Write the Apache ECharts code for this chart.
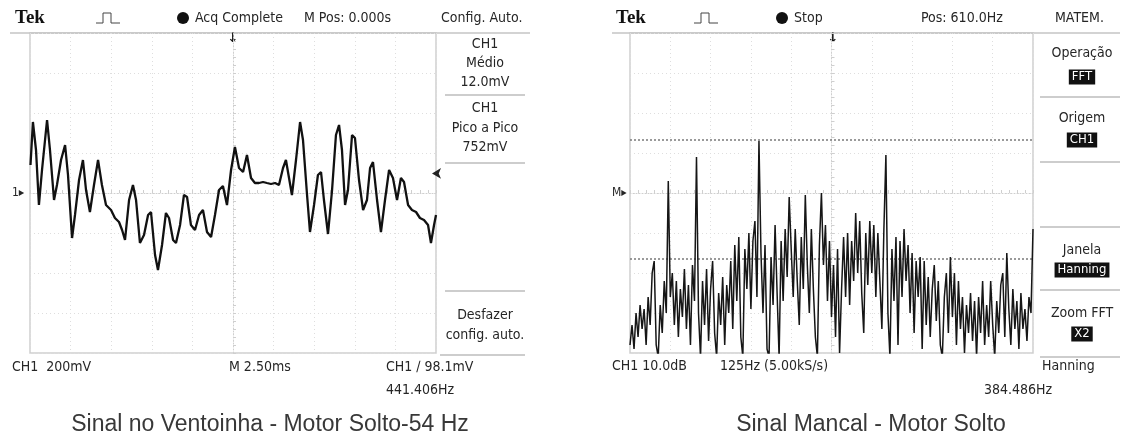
<!DOCTYPE html>
<html><head><meta charset="utf-8">
<script src="https://cdn.jsdelivr.net/npm/echarts@6/dist/echarts.min.js"></script>
<style>html,body{margin:0;padding:0;background:#fff}#c{width:1125px;height:439px}</style>
</head><body><div id="c"></div><script>
// ---- Left scope: time-domain signal (ms, mV) ----
const timeMs = [0.03,0.18,0.37,0.55,0.74,1.05,1.23,1.48,1.66,1.91,2.16,2.34,2.59,2.77,3.02,3.26,3.45,3.69,3.94,4.19,4.43,4.68,4.99,5.23,5.48,5.67,5.85,6.10,6.34,6.53,6.77,7.02,7.27,7.45,7.70,7.88,8.13,8.37,8.56,8.81,8.99,9.24,9.48,9.67,9.91,10.16,10.41,10.65,10.90,11.15,11.39,11.64,11.88,12.13,12.38,12.62,12.87,13.12,13.36,13.61,13.85,14.10,14.35,14.59,14.84,15.09,15.33,15.58,15.76,15.95,16.13,16.38,16.63,16.81,17.06,17.24,17.49,17.73,17.92,18.10,18.35,18.60,18.84,19.03,19.21,19.40,19.58,19.83,20.01,20.26,20.51,20.75,20.94,21.12,21.37,21.61,21.86,22.11,22.35,22.60,22.84,23.03,23.28,23.52,23.77,24.01,24.26,24.51,24.69,24.88,25.00];
const voltMv = [140,355,215,-60,115,365,215,-35,40,165,240,90,-225,-110,65,165,15,-95,40,165,40,-60,-85,-125,-145,-185,-235,-35,40,-35,-250,-210,-110,-95,-310,-385,-260,-100,-125,-235,-250,-160,-10,-20,-160,-185,-110,-85,-195,-220,-110,15,35,-60,115,230,125,105,190,75,50,50,55,50,45,50,40,125,165,75,-10,165,355,265,-10,-195,-60,90,105,-35,-205,15,290,340,215,-60,15,290,275,65,-85,-35,125,155,-35,-195,-35,115,75,-35,75,55,-60,-85,-95,-125,-135,-160,-250,-160,-110];
const triggerMv = 98.1;

// ---- Right scope: FFT (Hz bins, dB) ----
const fftStartHz = -15;
const fftStepHz = 6.25;
const fftDb = [-38,-33,-39,-30,-36,-28,-34,-29,-38,-26,
-33,-20,-17,-38,-41,-28,-35,-22,-30,3,
-26,-20,-33,-22,-36,-24,-31,-19,-34,-23,
-38,-18,-27,9,-30,-41,-22,-33,-19,-37,
-24,-17,-35,-41,-25,-33,-21,-38,-23,-30,
-17,-34,-13,-27,-11,-36,-41,-14,-24,-10,
-29,-12,-7,-26,13,-15,-30,-13,-39,-41,
-16,-28,-8,-25,-41,-12,-27,-9,-21,-1,
-14,-26,-9,-22,-33,-11,-24,-0.5,-18,-30,
-9,-24,-36,-41,-13,0,-18,-8,-27,-12,
-31,-18,-36,-14,-40,-24,-11,-26,-10,-28,
-12,-22,-5,-20,-7,-25,-35,-10,-23,-7,
-20,-8,-26,-10,-22,-34,-9,9.5,-30,-41,
-14,-27,-11,-38,-12,-26,-9,-22,-13,-30,
-15,-35,-17,-26,-16,-39,-17,-33,-21,-36,
-24,-18,-32,-22,-38,-41,-26,-20,-35,-16,
-31,-20,-38,-22,-34,-26,-40,-28,-35,-25,
-37,-27,-41,-26,-35,-22,-38,-28,-36,-22,
-33,-41,-27,-35,-23,-20,-36,-15,-29,-38,
-24,-34,-27,-39,-25,-34,-29,-37,-26,-30,
-9];
const cursorDb = [13.25, -16.5];
const fftHz = fftDb.map((_, i) => (fftStartHz + i * fftStepHz).toFixed(2));

const F = "'Liberation Sans Narrow','DejaVu Sans Condensed','Liberation Sans',sans-serif";
const TXT = '#262626';
const GRIDC = '#dedede';

function t(x, y, text, opt) {
  opt = opt || {};
  return {type:'text', x:x, y:y, silent:true, style:{text:text, fill:opt.fill||TXT,
    font:(opt.weight||'normal')+' '+(opt.size||14)+'px '+(opt.family||F),
    textAlign:opt.align||'left', textVerticalAlign:'middle',
    backgroundColor:opt.bg, padding:opt.pad}};
}
function ln(x1,y1,x2,y2,c,w){return {type:'line',silent:true,shape:{x1,y1,x2,y2},style:{stroke:c||'#bdbdbd',lineWidth:w||1.5}};}
function pulse(x){return {type:'polyline',silent:true,shape:{points:[[x,23],[x+7,23],[x+7,13],[x+15,13],[x+15,23],[x+24,23]]},style:{stroke:'#444',fill:null,lineWidth:1}};}
const INV = {bg:'#111', fill:'#fff', align:'center', pad:[1,3], size:13};
const TITLE = {align:'center',size:23,family:"'Liberation Sans',Arial,sans-serif",fill:'#383838'};

const graphics = [
  // left header
  t(15,18,'Tek',{family:"'Liberation Serif',serif",weight:'bold',size:19,fill:'#111'}),
  pulse(96),
  {type:'circle',silent:true,shape:{cx:183,cy:18,r:6},style:{fill:'#111'}},
  t(195,18,'Acq Complete'), t(304,18,'M Pos: 0.000s'), t(441,18,'Config. Auto.'),
  ln(10,33,530,33,'#c4c4c4',1.5),
  t(485,44,'CH1',{align:'center'}), t(485,63,'Médio',{align:'center'}), t(485,82,'12.0mV',{align:'center'}),
  ln(445,95,525,95),
  t(485,108,'CH1',{align:'center'}), t(485,128,'Pico a Pico',{align:'center'}), t(485,147,'752mV',{align:'center'}),
  ln(445,163,525,163), ln(445,291,525,291),
  t(485,315,'Desfazer',{align:'center'}), t(485,335,'config. auto.',{align:'center'}),
  ln(440,355,525,355),
  t(12,367,'CH1  200mV'), t(229,367,'M 2.50ms'), t(386,367,'CH1 ∕ 98.1mV'), t(386,390,'441.406Hz'),
  t(12,193,'1▸',{size:12}),
  t(233,39,'↓',{align:'center',size:13,weight:'bold',family:"'DejaVu Sans',sans-serif",fill:'#111'}),
  t(270,425,'Sinal no Ventoinha - Motor Solto-54 Hz',TITLE),
  // right header
  t(616,18,'Tek',{family:"'Liberation Serif',serif",weight:'bold',size:19,fill:'#111'}),
  pulse(694),
  {type:'circle',silent:true,shape:{cx:782,cy:18,r:6},style:{fill:'#111'}},
  t(794,18,'Stop'), t(921,18,'Pos: 610.0Hz'), t(1055,18,'MATEM.'),
  ln(612,33,1120,33,'#c4c4c4',1.5),
  t(1082,53,'Operação',{align:'center'}), t(1082,77,'FFT',INV),
  ln(1040,97,1120,97),
  t(1082,118,'Origem',{align:'center'}), t(1082,140,'CH1',INV),
  ln(1040,162,1120,162), ln(1040,227,1120,227),
  t(1082,250,'Janela',{align:'center'}), t(1082,270,'Hanning',INV),
  ln(1040,290,1120,290),
  t(1082,313,'Zoom FFT',{align:'center'}), t(1082,334,'X2',INV),
  ln(1040,357,1120,357),
  t(612,366,'CH1 10.0dB'), t(720,366,'125Hz (5.00kS/s)'), t(1042,366,'Hanning'), t(984,390,'384.486Hz'),
  t(612,193,'M▸',{size:12}),
  t(833,39,'↓',{align:'center',size:13,weight:'bold',family:"'DejaVu Sans',sans-serif",fill:'#111'}),
  t(871,425,'Sinal Mancal - Motor Solto',TITLE)
];

const dotted = {show:true, lineStyle:{color:GRIDC, type:[1,3], width:1}};
const hide = {show:false};
const centerLine = {show:true, lineStyle:{color:'#cfcfcf', type:[1,2], width:1}};

const option = {
  animation:false,
  backgroundColor:'#fff',
  grid:[
    {left:30, top:33, width:406, height:320, show:true, borderColor:'#cfcfcf', borderWidth:1.5},
    {left:630, top:33, width:403, height:320, show:true, borderColor:'#cfcfcf', borderWidth:1.5}
  ],
  xAxis:[
    {gridIndex:0, type:'value', min:0, max:25, interval:2.5, axisLine:hide, axisTick:hide, axisLabel:hide, splitLine:dotted},
    {gridIndex:0, type:'value', min:0, max:25, interval:2.5, position:'bottom', offset:-160, axisLine:centerLine,
      axisTick:{show:true, inside:true, length:3, lineStyle:{color:'#cfcfcf'}}, minorTick:{show:true, splitNumber:5, length:3, lineStyle:{color:'#cfcfcf'}},
      axisLabel:hide, splitLine:hide},
    {gridIndex:1, type:'category', data:fftHz, boundaryGap:false, axisLine:hide, axisTick:hide, axisLabel:hide,
      splitLine:{show:true, interval:(i)=>i%20===0, lineStyle:{color:GRIDC, type:[1,3], width:1}}},
    {gridIndex:1, type:'category', data:fftHz, boundaryGap:false, position:'bottom', offset:-160, axisLine:centerLine,
      axisTick:{show:true, inside:true, length:3, interval:(i)=>i%4===0, lineStyle:{color:'#cfcfcf'}}, axisLabel:hide, splitLine:hide}
  ],
  yAxis:[
    {gridIndex:0, type:'value', min:-800, max:800, interval:200, axisLine:hide, axisTick:hide, axisLabel:hide, splitLine:dotted},
    {gridIndex:0, type:'value', min:-800, max:800, interval:200, position:'left', offset:-203, axisLine:centerLine,
      axisTick:{show:true, inside:true, length:3, lineStyle:{color:'#cfcfcf'}}, minorTick:{show:true, splitNumber:5, length:3, lineStyle:{color:'#cfcfcf'}},
      axisLabel:hide, splitLine:hide},
    {gridIndex:1, type:'value', min:-40, max:40, interval:10, axisLine:hide, axisTick:hide, axisLabel:hide, splitLine:dotted},
    {gridIndex:1, type:'value', min:-40, max:40, interval:10, position:'left', offset:-201.5, axisLine:centerLine,
      axisTick:{show:true, inside:true, length:3, lineStyle:{color:'#cfcfcf'}}, minorTick:{show:true, splitNumber:5, length:3, lineStyle:{color:'#cfcfcf'}},
      axisLabel:hide, splitLine:hide}
  ],
  series:[
    {type:'line', xAxisIndex:0, yAxisIndex:0, data:timeMs.map((v,i)=>[v, voltMv[i]]), showSymbol:false, silent:true,
      lineStyle:{color:'#111', width:2.3}, z:5,
      markPoint:{silent:true, symbol:'arrow', symbolSize:[8,9], symbolRotate:90, symbolOffset:[-4,0],
        itemStyle:{color:'#222'}, label:{show:false}, data:[{coord:[25, triggerMv]}]}},
    {type:'line', xAxisIndex:2, yAxisIndex:2, data:fftDb, showSymbol:false, silent:true,
      lineStyle:{color:'#161616', width:1.5}, z:5,
      markLine:{silent:true, symbol:'none', label:{show:false}, lineStyle:{color:'#7a7a7a', type:[2,2], width:1.5},
        data:cursorDb.map(v=>({yAxis:v}))}}
  ],
  graphic:graphics
};
const chart = echarts.init(document.getElementById('c'), null, {renderer:'canvas'});
chart.setOption(option);
</script></body></html>
